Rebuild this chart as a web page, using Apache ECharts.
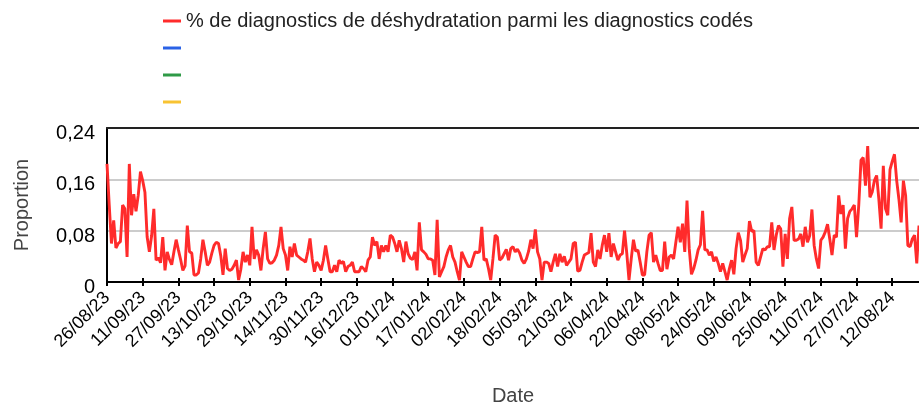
<!DOCTYPE html>
<html>
<head>
<meta charset="utf-8">
<script src="https://cdn.jsdelivr.net/npm/echarts@6/dist/echarts.min.js"></script>
<style>
html,body{margin:0;padding:0;background:#fff;}
#chart{width:919px;height:403px;}
</style>
</head>
<body>
<div id="chart"></div>
<script>
// Series names (legend) and colours
const seriesNames = ['% de diagnostics de déshydratation parmi les diagnostics codés', ' ', '  ', '   '];
const seriesColors = ['#ff2b2b', '#2a62e6', '#2f9a47', '#f8c332'];

// First day of the daily series and number of days
const startDate = '2023-08-26';
const dayCount = 365;

// Y-axis ticks
const yTicks = [0, 0.08, 0.16, 0.24];

// Daily proportion (26/08/23 .. 24/08/24)
const proportion = [
  0.184, 0.12, 0.06, 0.096, 0.053, 0.06, 0.063, 0.12, 0.114, 0.039,
  0.184, 0.104, 0.137, 0.11, 0.135, 0.172, 0.158, 0.14, 0.07, 0.047,
  0.072, 0.114, 0.034, 0.038, 0.03, 0.07, 0.018, 0.047, 0.035, 0.027,
  0.047, 0.066, 0.05, 0.035, 0.018, 0.025, 0.088, 0.047, 0.045, 0.011,
  0.011, 0.014, 0.036, 0.066, 0.047, 0.026, 0.031, 0.045, 0.057, 0.062,
  0.06, 0.041, 0.011, 0.052, 0.021, 0.018, 0.02, 0.026, 0.034, 0.003,
  0.02,
  0.047, 0.031, 0.042, 0.026, 0.086, 0.036, 0.05, 0.042, 0.018, 0.052,
  0.078, 0.036, 0.029, 0.03, 0.034, 0.042, 0.057, 0.086, 0.052, 0.042,
  0.018, 0.055, 0.039, 0.06, 0.042, 0.039, 0.036, 0.034, 0.031, 0.047,
  0.068, 0.036, 0.016, 0.031, 0.026, 0.018, 0.034, 0.057, 0.036, 0.016,
  0.016, 0.026, 0.016, 0.034, 0.029, 0.032, 0.016, 0.024, 0.026, 0.031,
  0.016, 0.016, 0.016, 0.024, 0.021, 0.016, 0.034, 0.039, 0.07, 0.057,
  0.063, 0.036, 0.057, 0.047, 0.057, 0.047, 0.073, 0.07, 0.06, 0.047,
  0.065, 0.052, 0.031, 0.063, 0.044, 0.037, 0.035, 0.047, 0.018, 0.093,
  0.05, 0.047, 0.043, 0.036, 0.036, 0.034, 0.011, 0.097, 0.008, 0.016,
  0.024, 0.039, 0.05, 0.057, 0.039, 0.031, 0.016, 0.003, 0.047, 0.039,
  0.031, 0.024, 0.024, 0.036, 0.047, 0.046, 0.047, 0.086, 0.034, 0.036,
  0.021, 0.003, 0.036, 0.073, 0.07, 0.034, 0.037, 0.044, 0.051, 0.034,
  0.052, 0.055, 0.047, 0.051, 0.045, 0.034, 0.029, 0.036, 0.048, 0.066,
  0.052, 0.082, 0.047, 0.036, 0.003, 0.031, 0.031, 0.029, 0.016, 0.031,
  0.044, 0.024, 0.044, 0.031, 0.04, 0.026, 0.031, 0.036, 0.06, 0.062,
  0.017, 0.018, 0.031, 0.042, 0.044, 0.046, 0.076, 0.031, 0.024, 0.05,
  0.036, 0.057, 0.073, 0.047, 0.076, 0.039, 0.06, 0.047, 0.034, 0.042,
  0.044, 0.08, 0.045, 0.003, 0.036, 0.066, 0.048, 0.05, 0.031, 0.011,
  0.011, 0.047, 0.073, 0.077, 0.031, 0.042, 0.029, 0.018, 0.018, 0.063,
  0.02, 0.039, 0.042, 0.036, 0.062, 0.086, 0.062, 0.091, 0.047, 0.127,
  0.052, 0.012, 0.021, 0.034, 0.05, 0.058, 0.111, 0.05, 0.05, 0.042,
  0.047, 0.032, 0.039, 0.029, 0.016, 0.029, 0.016, 0.003, 0.021, 0.034,
  0.012, 0.052, 0.077, 0.065, 0.031, 0.042, 0.052, 0.095, 0.079, 0.08,
  0.031, 0.026, 0.039, 0.052, 0.05, 0.055, 0.055, 0.093, 0.05, 0.073,
  0.088, 0.083, 0.024, 0.075, 0.036, 0.099, 0.117, 0.065, 0.065, 0.067,
  0.075, 0.055, 0.086, 0.062, 0.072, 0.113, 0.057, 0.036, 0.021, 0.065,
  0.07, 0.078, 0.09, 0.067, 0.042, 0.073, 0.07, 0.135, 0.106, 0.12,
  0.052, 0.099, 0.11, 0.114, 0.12, 0.07, 0.12, 0.19, 0.194, 0.15,
  0.212, 0.132, 0.14, 0.158, 0.166, 0.129, 0.083, 0.181, 0.114, 0.104,
  0.175, 0.188, 0.199, 0.158, 0.129, 0.093, 0.158, 0.135, 0.057, 0.055,
  0.067, 0.073, 0.029, 0.088
];

// Build dd/mm/yy category labels
function pad(n){ return (n < 10 ? '0' : '') + n; }
const categories = [];
const t0 = Date.parse(startDate + 'T00:00:00Z');
for (let i = 0; i < dayCount; i++) {
  const d = new Date(t0 + i * 86400000);
  categories.push(pad(d.getUTCDate()) + '/' + pad(d.getUTCMonth() + 1) + '/' + String(d.getUTCFullYear()).slice(2));
}

const FONT = '"Liberation Sans", Arial, sans-serif';
const chart = echarts.init(document.getElementById('chart'), null, {renderer: 'canvas'});

const series = [{
  name: seriesNames[0],
  type: 'line',
  data: proportion,
  xAxisIndex: 0,
  symbol: 'none',
  lineStyle: {color: seriesColors[0], width: 2.9},
  itemStyle: {color: seriesColors[0]},
  animation: false
}];
for (let i = 1; i < seriesNames.length; i++) {
  series.push({
    name: seriesNames[i], type: 'line', data: [], symbol: 'none',
    lineStyle: {color: seriesColors[i]}, itemStyle: {color: seriesColors[i]}
  });
}

chart.setOption({
  animation: false,
  textStyle: {fontFamily: FONT},
  legend: {
    orient: 'vertical',
    left: 158,
    top: 5,
    icon: 'rect',
    itemWidth: 18,
    itemHeight: 3,
    itemGap: 5,
    textStyle: {fontSize: 20, color: '#222', fontFamily: FONT, lineHeight: 22},
    data: seriesNames
  },
  grid: {left: 107, right: 0, top: 128, bottom: 121, containLabel: false, outerBoundsMode: 'none'},
  xAxis: [{
    type: 'category',
    data: categories,
    boundaryGap: false,
    position: 'bottom',
    axisLine: {lineStyle: {color: '#000', width: 2}},
    axisTick: {show: true, interval: 15, length: 4, lineStyle: {color: '#000', width: 2}},
    axisLabel: {interval: 15, rotate: 45, fontSize: 18, color: '#000', margin: 13, fontFamily: FONT},
    splitLine: {show: false},
    name: 'Date',
    nameLocation: 'middle',
    nameGap: 104,
    nameTextStyle: {fontSize: 20, color: '#444', fontFamily: FONT}
  }, {
    type: 'category',
    data: categories,
    boundaryGap: false,
    position: 'top',
    axisLine: {show: true, lineStyle: {color: '#222', width: 2}},
    axisTick: {show: false},
    axisLabel: {show: false},
    splitLine: {show: false}
  }, {
    type: 'category',
    data: categories,
    boundaryGap: false,
    position: 'bottom',
    axisLine: {show: false},
    axisTick: {show: true, inside: true, interval: 15, length: 4, lineStyle: {color: '#000', width: 2}},
    axisLabel: {show: false},
    splitLine: {show: false}
  }],
  yAxis: {
    type: 'value',
    min: yTicks[0],
    max: yTicks[yTicks.length - 1],
    interval: yTicks[1] - yTicks[0],
    axisLine: {show: true, lineStyle: {color: '#000', width: 2}},
    axisTick: {show: false},
    splitLine: {lineStyle: {color: '#cccccc', width: 2}},
    axisLabel: {
      color: '#000', margin: 12, fontFamily: FONT,
      formatter: function (v) { return '{a|' + (v === 0 ? '0' : v.toFixed(2).replace('.', ',')) + '}'; },
      rich: {a: {fontSize: 20, color: '#000', fontFamily: FONT, padding: [11, 0, 0, 0]}}
    },
    name: 'Proportion',
    nameLocation: 'middle',
    nameGap: 75,
    nameTextStyle: {fontSize: 20, color: '#444', fontFamily: FONT}
  },
  series: series
});
</script>
</body>
</html>
